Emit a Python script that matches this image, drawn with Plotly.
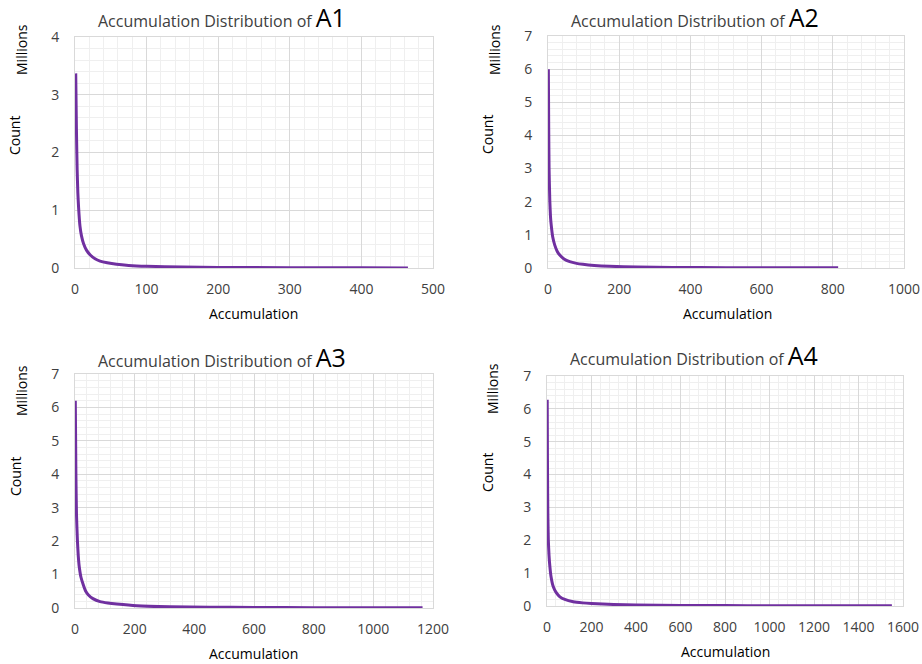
import plotly.graph_objects as go

# ---- data (y in millions) ----
a1_x = [1, 2, 3, 4, 5, 7, 9, 12, 16, 21, 28, 35, 45, 58, 75, 100, 150, 200, 300, 400, 465]
a1_y = [3.37, 2.4, 1.7, 1.3, 1.05, 0.72, 0.56, 0.42, 0.31, 0.23, 0.16, 0.12, 0.09, 0.064, 0.045, 0.03, 0.016, 0.01, 0.005, 0.003, 0.002]

a2_x = [1, 2, 3, 5, 7, 9, 13, 19, 26, 33, 45, 61, 80, 98, 130, 173, 250, 350, 500, 650, 815]
a2_y = [6.0, 4.2, 3.0, 2.05, 1.55, 1.3, 0.95, 0.69, 0.5, 0.39, 0.27, 0.19, 0.14, 0.11, 0.075, 0.05, 0.03, 0.018, 0.01, 0.006, 0.004]

a3_x = [1, 3, 5, 8, 11, 14, 20, 28, 36, 45, 60, 84, 110, 140, 207, 318, 450, 600, 800, 1000, 1165]
a3_y = [6.2, 4.0, 2.8, 2.03, 1.55, 1.25, 0.92, 0.69, 0.5, 0.39, 0.28, 0.19, 0.15, 0.12, 0.07, 0.04, 0.025, 0.016, 0.01, 0.007, 0.005]

a4_x = [1, 2, 3, 4, 6, 9, 13, 18, 28, 40, 58, 80, 118, 160, 200, 300, 400, 600, 800, 1000, 1200, 1400, 1550]
a4_y = [6.28, 4.5, 3.4, 2.7, 2.0, 1.55, 1.2, 0.9, 0.59, 0.42, 0.28, 0.2, 0.13, 0.095, 0.075, 0.045, 0.03, 0.018, 0.012, 0.009, 0.007, 0.005, 0.004]

names = ["A1", "A2", "A3", "A4"]
xs = [a1_x, a2_x, a3_x, a4_x]
ys = [a1_y, a2_y, a3_y, a4_y]
x_max = [500, 1000, 1200, 1600]
x_dtick = [100, 200, 200, 200]
x_minor = [20, 40, 40, 40]
y_max = [4, 7, 7, 7]

W, H = 922, 664
# plot areas in page pixels: left, right, top, bottom
areas = [(75, 433, 37, 268), (548, 904, 36, 268), (75, 433, 374, 608), (547, 903, 376, 606)]
title_pos = [(222, 17), (695, 17), (222, 357), (694, 355)]
count_pos = [(15, 135), (488, 135), (15, 476), (487, 473)]
mill_pos = [(21, 50), (494, 50), (21, 391), (492, 388)]
xtitle_pos = [(253, 313), (727, 313), (253, 653), (725, 651)]


def px(x):
    return x / W


def py(y):
    return 1 - y / H


FONT = "Open Sans"
TXT = "#404040"
LINE = "#7030A0"

fig = go.Figure()
annotations = []
for i in range(4):
    sfx = "" if i == 0 else str(i + 1)
    l, r, t, b = areas[i]
    fig.add_trace(go.Scatter(x=xs[i], y=ys[i], mode="lines",
                             line=dict(color=LINE, width=3, shape="spline", smoothing=0.5),
                             xaxis="x" + sfx, yaxis="y" + sfx, showlegend=False))
    fig.layout["xaxis" + sfx] = dict(
        domain=[px(l), px(r)], anchor="y" + sfx, range=[0, x_max[i]], automargin=False,
        dtick=x_dtick[i], tick0=0, showgrid=True, gridcolor="#d9d9d9", gridwidth=1,
        minor=dict(dtick=x_minor[i], tick0=0, showgrid=True, gridcolor="#efefef", gridwidth=1),
        showline=True, linecolor="#d9d9d9", mirror=True, zeroline=False,
        ticks="", ticklabelstandoff=8,
        tickfont=dict(family=FONT, size=14, color=TXT), fixedrange=True)
    fig.layout["yaxis" + sfx] = dict(
        domain=[py(b), py(t)], anchor="x" + sfx, range=[0, y_max[i]], automargin=False,
        dtick=1, tick0=0, showgrid=True, gridcolor="#d9d9d9", gridwidth=1,
        minor=dict(dtick=0.2, tick0=0, showgrid=True, gridcolor="#efefef", gridwidth=1),
        showline=True, linecolor="#d9d9d9", mirror=True, zeroline=False,
        ticks="", ticklabelstandoff=12,
        tickfont=dict(family=FONT, size=14, color=TXT), fixedrange=True)
    tx, ty = title_pos[i]
    annotations.append(dict(
        x=px(tx), y=py(ty), xref="paper", yref="paper", showarrow=False,
        xanchor="center", yanchor="middle",
        text="Accumulation Distribution of <span style='font-size:25px;color:#000000'>" + names[i] + "</span>",
        font=dict(family=FONT, size=16, color=TXT)))
    cx, cy = count_pos[i]
    annotations.append(dict(x=px(cx), y=py(cy), xref="paper", yref="paper", showarrow=False,
                            xanchor="center", yanchor="middle", textangle=-90, text="Count",
                            font=dict(family=FONT, size=14, color="#000000")))
    mx, my = mill_pos[i]
    annotations.append(dict(x=px(mx), y=py(my), xref="paper", yref="paper", showarrow=False,
                            xanchor="center", yanchor="middle", textangle=-90, text="Millions",
                            font=dict(family=FONT, size=14, color="#000000")))
    ax, ay = xtitle_pos[i]
    annotations.append(dict(x=px(ax), y=py(ay), xref="paper", yref="paper", showarrow=False,
                            xanchor="center", yanchor="middle", text="Accumulation",
                            font=dict(family=FONT, size=14, color="#000000")))

fig.update_layout(width=W, height=H, margin=dict(l=0, r=0, t=0, b=0, autoexpand=False),
                  paper_bgcolor="white", plot_bgcolor="white",
                  annotations=annotations)
fig.write_html("out.html", config={"displayModeBar": False},
               post_script="document.body.style.margin='0';document.body.style.overflow='hidden';")
